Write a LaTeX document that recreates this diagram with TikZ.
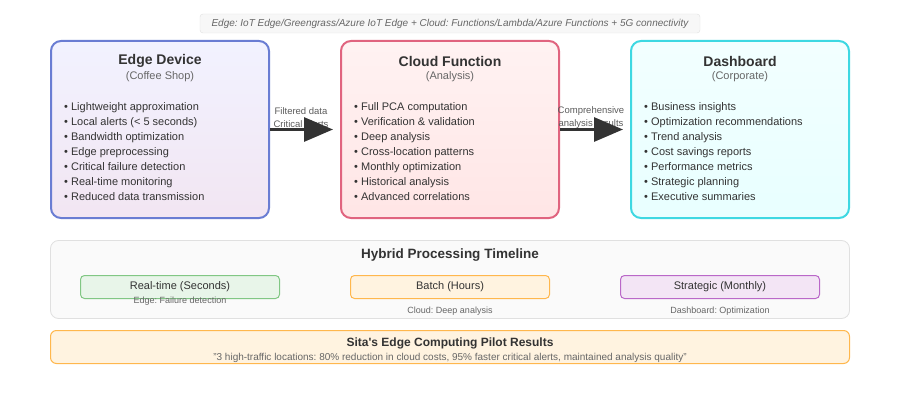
\documentclass[tikz,border=0pt]{standalone}
\usepackage{fontspec}
\setmainfont{Liberation Sans}
\usetikzlibrary{arrows.meta}
\definecolor{ink}{HTML}{333333}
\definecolor{soft}{HTML}{666666}
\definecolor{edgeline}{HTML}{6A7DD3}
\definecolor{cloudline}{HTML}{E0647F}
\definecolor{dashline}{HTML}{3ED8E2}
\definecolor{rtline}{HTML}{81C784}
\definecolor{rtfill}{HTML}{E8F5E9}
\definecolor{batchline}{HTML}{FFB74D}
\definecolor{batchfill}{HTML}{FFF3E0}
\definecolor{stratline}{HTML}{BA68C8}
\definecolor{stratfill}{HTML}{F3E5F5}
\tikzset{
  card/.style={draw,line width=2pt,rounded corners=10pt,minimum width=218pt,minimum height=177pt},
  title/.style={font=\bfseries\fontsize{14}{16}\selectfont,text=ink},
  sub/.style={font=\fontsize{11}{13}\selectfont,text=soft},
  items/.style={font=\fontsize{11}{15}\selectfont,text=ink,align=left,anchor=north west,inner sep=0pt},
  flowlabel/.style={font=\fontsize{9.5}{13}\selectfont,text=soft!90!black,align=center},
  flow/.style={line width=3pt,draw=ink,-{Triangle[length=29pt,width=24pt]}},
  phase/.style={draw,line width=1pt,rounded corners=4pt,minimum width=199pt,minimum height=23pt,font=\fontsize{11}{13}\selectfont,text=ink},
  note/.style={font=\fontsize{9}{10}\selectfont,text=soft}
}
\begin{document}
\frenchspacing
\begin{tikzpicture}[x=1pt,y=-1pt]
\useasboundingbox (0,0) rectangle (900,420);
% top banner
\node[draw=black!12,fill=black!3,rounded corners=3pt,minimum width=500pt,minimum height=19pt,
  font=\itshape\fontsize{10}{11}\selectfont,text=soft] (stack) at (450,23.5)
  {Edge: IoT Edge/Greengrass/Azure IoT Edge + Cloud: Functions/Lambda/Azure Functions + 5G connectivity};
% the three cards
\node[card,draw=edgeline,top color=blue!5,bottom color=violet!10] (edge) at (160,129.5) {};
\node[card,draw=cloudline,top color=pink!20,bottom color=red!10] (cloud) at (450,129.5) {};
\node[card,draw=dashline,top color=cyan!5,bottom color=cyan!9] (dash) at (740,129.5) {};
\node[title] (edgeT) at (160,61) {Edge Device};
\node[sub] at (160,76.5) {(Coffee Shop)};
\node[items] (edgeL) at (64,102) {• Lightweight approximation\\• Local alerts (< 5 seconds)\\• Bandwidth optimization\\• Edge preprocessing\\• Critical failure detection\\• Real-time monitoring\\• Reduced data transmission};
\node[title] (cloudT) at (450,61) {Cloud Function};
\node[sub] at (450,76.5) {(Analysis)};
\node[items] (cloudL) at (354,102) {• Full PCA computation\\• Verification \& validation\\• Deep analysis\\• Cross-location patterns\\• Monthly optimization\\• Historical analysis\\• Advanced correlations};
\node[title] (dashT) at (740,61) {Dashboard};
\node[sub] at (740,76.5) {(Corporate)};
\node[items] (dashL) at (644,102) {• Business insights\\• Optimization recommendations\\• Trend analysis\\• Cost savings reports\\• Performance metrics\\• Strategic planning\\• Executive summaries};
% connectors, labels under the arrows
\node[flowlabel] at (301,117.5) {Filtered data\\Critical alerts};
\node[flowlabel] at (591,117.5) {Comprehensive\\analysis results};
\draw[flow,shorten >=7pt] (edge.east) -- (cloud.west);
\draw[flow,shorten >=7pt] (cloud.east) -- (dash.west);
% timeline
\node[draw=black!12,fill=black!2,rounded corners=8pt,line width=0.8pt,minimum width=799pt,minimum height=78pt] (line) at (450,279.5) {};
\node[title,font=\bfseries\fontsize{13.5}{16}\selectfont] at (450,255.5) {Hybrid Processing Timeline};
\node[phase,draw=rtline,fill=rtfill] (rt) at (180,287) {Real-time (Seconds)};
\node[phase,draw=batchline,fill=batchfill] (batch) at (450,287) {Batch (Hours)};
\node[phase,draw=stratline,fill=stratfill] (strat) at (720,287) {Strategic (Monthly)};
\node[note] at (180,301.5) {Edge: Failure detection};
\node[note] at (450,311.5) {Cloud: Deep analysis};
\node[note] at (720,311.5) {Dashboard: Optimization};
% pilot results
\node[draw=batchline,fill=batchfill,rounded corners=6pt,line width=1pt,minimum width=799pt,minimum height=33pt] (pilot) at (450,347) {};
\node[title,font=\bfseries\fontsize{12}{14}\selectfont] at (450,343.5) {Sita\textquotesingle s Edge Computing Pilot Results};
\node[note,font=\fontsize{10}{11}\selectfont] at (450,357.5) {"3 high-traffic locations: 80\% reduction in cloud costs, 95\% faster critical alerts, maintained analysis quality"};
\end{tikzpicture}
\end{document}
